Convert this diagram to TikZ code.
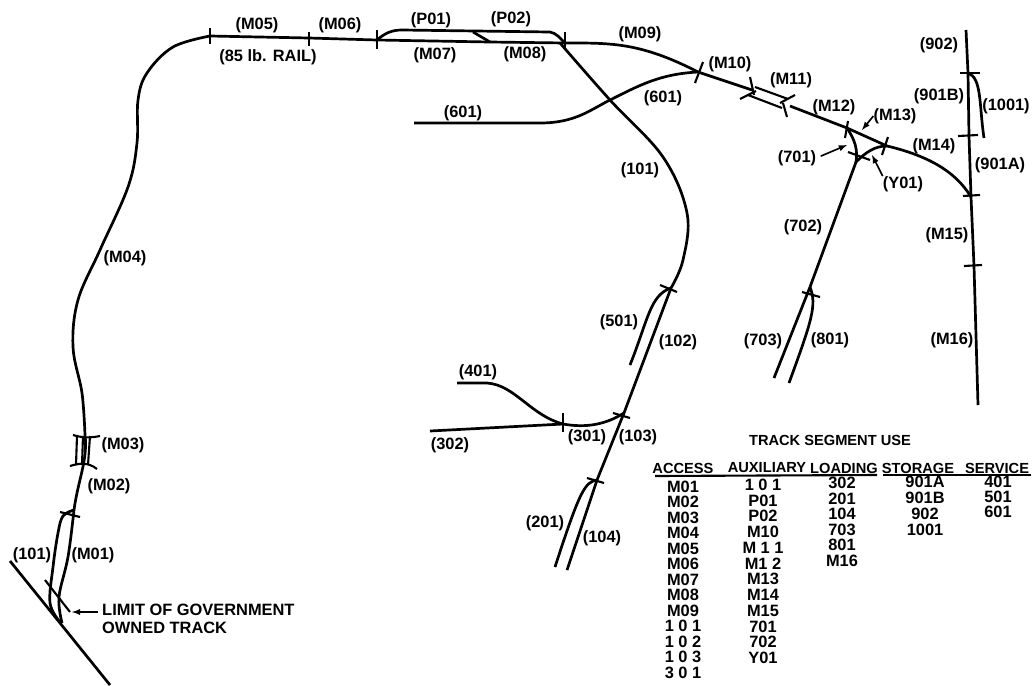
\documentclass[tikz,border=0pt]{standalone}
\usepackage{fontspec}
\setmainfont{Liberation Sans}
\tikzset{
  track/.style={line width=2.3pt},
  tick/.style={line width=1.8pt},
  leader/.style={line width=1.4pt,-latex},
  seg/.style={font=\fontsize{14}{15.5}\selectfont\bfseries,inner sep=0pt},
  head/.style={font=\fontsize{12.5}{14}\selectfont\bfseries,inner sep=0pt},
  cell/.style={font=\fontsize{14}{15}\selectfont\bfseries,inner sep=0pt}
}
\begin{document}
\begin{tikzpicture}[x=0.3mm,y=-0.3mm]
\useasboundingbox (0,0) rectangle (1033,685);

% junctions
\coordinate (gL) at (10,561);
\coordinate (gR) at (110,685);
\coordinate (gJ) at (62,623);
\coordinate (swA) at (74,510);
\coordinate (swB) at (210,36);
\coordinate (swC) at (309,38);
\coordinate (swD) at (377,40);
\coordinate (swE) at (490,42);
\coordinate (swF) at (565,43);
\coordinate (swG) at (698,72);
\coordinate (swH) at (752,90);
\coordinate (swI) at (790,106);
\coordinate (swJ) at (847,128);
\coordinate (swK) at (887,146);
\coordinate (swL) at (971,197);
\coordinate (swM) at (974,266);
\coordinate (end16) at (978,405);
\coordinate (top902) at (966,30);
\coordinate (sw901) at (968,73);
\coordinate (sw901b) at (969,136);
\coordinate (end1001) at (984,138);
\coordinate (sw7) at (856,162);
\coordinate (sw8) at (810,287);
\coordinate (end703) at (774,378);
\coordinate (end801) at (789,383);
\coordinate (sw5) at (671,288);
\coordinate (end501) at (630,365);
\coordinate (sw3) at (624,413);
\coordinate (sw2) at (597,480);
\coordinate (end104) at (567,570);
\coordinate (end201) at (555,567);
\coordinate (sw30) at (563,424);
\coordinate (end302) at (430,431);
\coordinate (end401) at (457,383);
\coordinate (end601) at (414,123);

% tracks
\draw[track] (gL) -- (gR);
\draw[track] plot[smooth,tension=0.6] coordinates {(gJ) (59,597) (68,557) (swA)};
\draw[track] plot[smooth,tension=0.6] coordinates {(60,622) (50,603) (53,567) (58,533) (63,516) (swA)};
\draw[track] (swA) .. controls (78,480) and (88,460) .. (85,435);
\draw[track] plot[smooth,tension=0.6] coordinates {(85,435) (82,393) (73,347) (78,300) (100,250) (128,187) (137,143) (138,100) (147,73) (173,47) (swB)};
\draw[track] (swB) -- (swC) -- (swD) -- (swE) -- (swF);
\draw[track] (swF) .. controls (610,43) and (640,42) .. (swG);
\draw[track] (swG) -- (swH);
\draw[track] (swI) -- (swJ) -- (swK);
\draw[track] (swK) .. controls (925,155) and (955,170) .. (swL);
\draw[track] (swL) -- (swM) -- (end16);
\draw[track] (top902) -- (sw901) -- (sw901b) -- (swL);
\draw[track] (sw901) .. controls (982,78) and (979,105) .. (end1001);

% passing tracks
\draw[track] (swD) .. controls (385,33) and (392,30) .. (402,30) -- (550,32) .. controls (556,33) and (560,38) .. (swF);
\draw[track] (473,32) -- (swE);
\draw[tick] (755,87) -- (788,99);
\draw[tick] (748,95) -- (782,108);
\draw[tick] (77,436) -- (76,465);
\draw[tick] (83,436) -- (82,465);
\draw[tick] (90,436) -- (88,465);

% branch tracks
\draw[track] plot[smooth,tension=0.6] coordinates {(560,43) (610,100) (663,157) (687,213) (683,260) (sw5)};
\draw[track] (end601) -- (540,123) .. controls (575,123) and (590,110) .. (610,100)
  .. controls (640,85) and (660,74) .. (swG);
\draw[track] (swJ) .. controls (855,140) and (858,150) .. (sw7);
\draw[track] (sw7) .. controls (866,152) and (875,146) .. (swK);
\draw[track] (sw7) -- (sw8);
\draw[track] (sw8) -- (end703);
\draw[track] (sw8) .. controls (817,305) and (812,320) .. (end801);
\draw[track] (sw5) -- (sw3) -- (sw2) -- (end104);
\draw[track] (sw5) .. controls (650,295) and (648,320) .. (end501);
\draw[track] (sw2) .. controls (585,482) and (580,490) .. (end201);
\draw[track] (end302) -- (sw30);
\draw[track] (end401) -- (487,383) .. controls (515,385) and (530,415) .. (sw30);
\draw[track] (sw30) .. controls (585,428) and (605,425) .. (sw3);

% ticks
\draw[tick] (60,512) -- (80,517);
\draw[tick] (45,580) -- (70,612);
\draw[tick] (73,435) .. controls (83,438) and (90,438) .. (100,436);
\draw[tick] (70,466) .. controls (80,463) and (88,462) .. (97,469);
\draw[tick] (210,28) -- (210,44);
\draw[tick] (309,32) -- (309,46);
\draw[tick] (377,30) -- (377,49);
\draw[tick] (565,32) -- (565,50);
\draw[tick] (703,62) -- (695,83);
\draw[tick] (750,77) -- (754,95);
\draw[tick] (740,99) -- (756,91);
\draw[tick] (795,95) -- (780,103);
\draw[tick] (783,103) -- (787,117);
\draw[tick] (848,121) -- (845,138);
\draw[tick] (888,137) -- (882,155);
\draw[tick] (848,152) -- (870,160);
\draw[tick] (960,73) -- (980,73);
\draw[tick] (958,136) -- (978,135);
\draw[tick] (963,196) -- (980,195);
\draw[tick] (964,266) -- (982,265);
\draw[tick] (802,292) -- (820,297);
\draw[tick] (660,285) -- (677,292);
\draw[tick] (613,413) -- (630,418);
\draw[tick] (563,413) -- (563,432);
\draw[tick] (587,478) -- (604,483);

% track labels
\node[seg] (lM01) at (93,555) {(M01)};
\node[seg] (l101a) at (32,555) {(101)};
\node[seg] (lM02) at (109,486) {(M02)};
\node[seg] (lM03) at (123,445) {(M03)};
\node[seg] (lM04) at (125,258) {(M04)};
\node[seg] (lM05) at (257,25) {(M05)};
\node[seg] (lM06) at (340,25) {(M06)};
\node[seg] (lRail) at (268,57) {(85 lb. RAIL)};
\node[seg] (lP01) at (431,20) {(P01)};
\node[seg] (lP02) at (511,19) {(P02)};
\node[seg] (lM07) at (435,55) {(M07)};
\node[seg] (lM08) at (525,54) {(M08)};
\node[seg] (lM09) at (640,34) {(M09)};
\node[seg] (l601a) at (463,113) {(601)};
\node[seg] (l601b) at (663,98) {(601)};
\node[seg] (lM10) at (730,64) {(M10)};
\node[seg] (lM11) at (791,80) {(M11)};
\node[seg] (lM12) at (834,107) {(M12)};
\node[seg] (lM13) at (895,116) {(M13)};
\node[seg] (lM14) at (934,146) {(M14)};
\node[seg] (lM15) at (947,235) {(M15)};
\node[seg] (lM16) at (952,340) {(M16)};
\node[seg] (l701) at (797,158) {(701)};
\node[seg] (lY01) at (903,184) {(Y01)};
\node[seg] (l702) at (803,227) {(702)};
\node[seg] (l902) at (939,45) {(902)};
\node[seg] (l901B) at (939,96) {(901B)};
\node[seg] (l1001) at (1006,106) {(1001)};
\node[seg] (l901A) at (1000,165) {(901A)};
\node[seg] (l101b) at (640,170) {(101)};
\node[seg] (l501) at (619,322) {(501)};
\node[seg] (l102) at (678,342) {(102)};
\node[seg] (l703) at (763,341) {(703)};
\node[seg] (l801) at (830,340) {(801)};
\node[seg] (l401) at (478,372) {(401)};
\node[seg] (l302) at (450,445) {(302)};
\node[seg] (l301) at (587,437) {(301)};
\node[seg] (l103) at (638,437) {(103)};
\node[seg] (l201) at (545,523) {(201)};
\node[seg] (l104) at (602,538) {(104)};
\node[seg,align=left,anchor=west] (lLimit) at (102,619) {LIMIT OF GOVERNMENT\\OWNED TRACK};

% leaders
\coordinate (tipLimit) at (72,612);
\coordinate (tailLimit) at (98,612);
\coordinate (tip701) at (847,145);
\coordinate (tipY01) at (872,155);
\coordinate (tipM13) at (862,130);
\draw[leader] (tailLimit) -- (tipLimit);
\draw[leader,shorten <=4pt] (l701.east) -- (tip701);
\draw[leader] (lY01.north west) -- (tipY01);
\draw[leader] (lM13.west) -- (tipM13);

% table
\node[head] (tTitle) at (830,440) {TRACK SEGMENT USE};
\node[head] (hAccess) at (683,468) {ACCESS};
\node[head] (hAux) at (767,468) {AUXILIARY};
\node[head] (hLoad) at (844,468) {LOADING};
\node[head] (hStore) at (918,468) {STORAGE};
\node[head] (hServ) at (997,468) {SERVICE};
\coordinate (ruleA) at (655,476);
\coordinate (ruleB) at (877,475);
\coordinate (ruleC) at (883,475);
\coordinate (ruleD) at (1031,475);
\draw[tick] (ruleA) -- (ruleB);
\draw[tick] (ruleC) -- (ruleD);

\node[cell] (a1) at (683,487) {M01};
\node[cell] (a2) at (683,502) {M02};
\node[cell] (a3) at (683,518) {M03};
\node[cell] (a4) at (683,533) {M04};
\node[cell] (a5) at (683,549) {M05};
\node[cell] (a6) at (683,564) {M06};
\node[cell] (a7) at (683,580) {M07};
\node[cell] (a8) at (683,595) {M08};
\node[cell] (a9) at (683,611) {M09};
\node[cell] (a10) at (683,626) {1 0 1};
\node[cell] (a11) at (683,642) {1 0 2};
\node[cell] (a12) at (683,657) {1 0 3};
\node[cell] (a13) at (683,673) {3 0 1};

\node[cell] (b1) at (763,485) {1 0 1};
\node[cell] (b2) at (763,501) {P01};
\node[cell] (b3) at (763,516) {P02};
\node[cell] (b4) at (763,532) {M10};
\node[cell] (b5) at (763,548) {M 1 1};
\node[cell] (b6) at (763,564) {M1 2};
\node[cell] (b7) at (763,579) {M13};
\node[cell] (b8) at (763,595) {M14};
\node[cell] (b9) at (763,611) {M15};
\node[cell] (b10) at (763,627) {701};
\node[cell] (b11) at (763,642) {702};
\node[cell] (b12) at (763,658) {Y01};

\node[cell] (c1) at (842,483) {302};
\node[cell] (c2) at (842,499) {201};
\node[cell] (c3) at (842,514) {104};
\node[cell] (c4) at (842,530) {703};
\node[cell] (c5) at (842,545) {801};
\node[cell] (c6) at (842,561) {M16};

\node[cell] (d1) at (925,482) {901A};
\node[cell] (d2) at (925,498) {901B};
\node[cell] (d3) at (925,514) {902};
\node[cell] (d4) at (925,530) {1001};

\node[cell] (e1) at (998,482) {401};
\node[cell] (e2) at (998,497) {501};
\node[cell] (e3) at (998,512) {601};
\end{tikzpicture}
\end{document}
